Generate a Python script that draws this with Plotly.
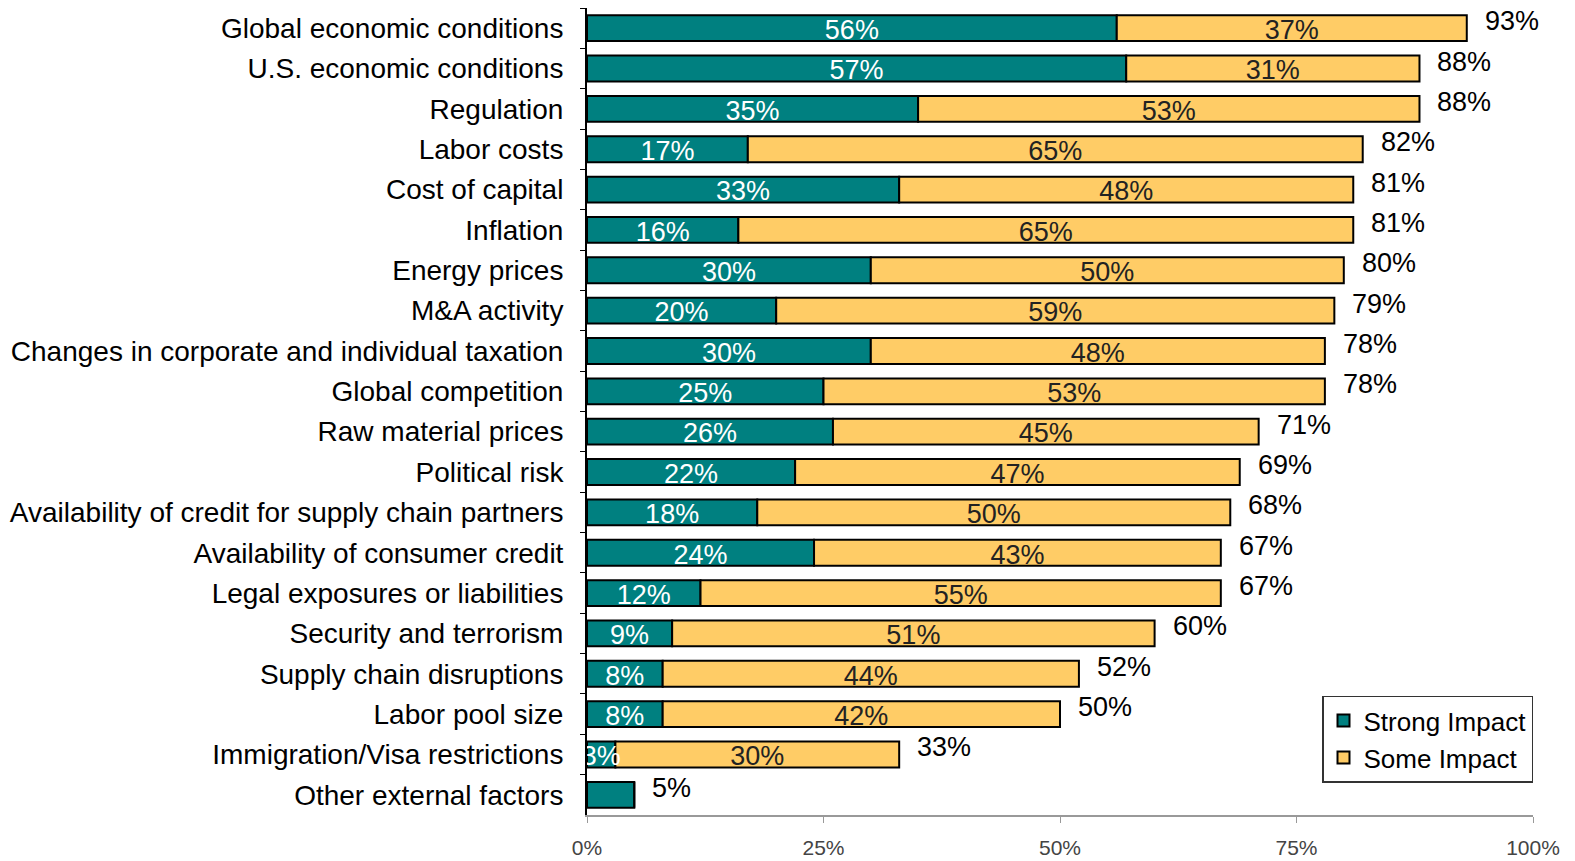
import plotly.graph_objects as go

factors = [
    "Global economic conditions", "U.S. economic conditions", "Regulation",
    "Labor costs", "Cost of capital", "Inflation", "Energy prices",
    "M&A activity", "Changes in corporate and individual taxation",
    "Global competition", "Raw material prices", "Political risk",
    "Availability of credit for supply chain partners",
    "Availability of consumer credit", "Legal exposures or liabilities",
    "Security and terrorism", "Supply chain disruptions", "Labor pool size",
    "Immigration/Visa restrictions", "Other external factors",
]
strong_impact = [56, 57, 35, 17, 33, 16, 30, 20, 30, 25, 26, 22, 18, 24, 12, 9, 8, 8, 3, 5]
some_impact = [37, 31, 53, 65, 48, 65, 50, 59, 48, 53, 45, 47, 50, 43, 55, 51, 44, 42, 30, 0]
x_ticks = [0, 25, 50, 75, 100]

TEAL = "#008080"
GOLD = "#FFCC66"
FONT = "Liberation Sans, Arial, sans-serif"

totals = [a + b for a, b in zip(strong_impact, some_impact)]
rows = list(range(len(factors)))
n = len(factors)

fig = go.Figure()
fig.add_trace(go.Bar(
    name="Strong Impact", y=factors, x=strong_impact, orientation="h",
    marker=dict(color=TEAL, line=dict(color="black", width=2)),
    hoverinfo="skip",
))
fig.add_trace(go.Bar(
    name="Some Impact", y=factors, x=some_impact, orientation="h",
    base=strong_impact,
    marker=dict(color=GOLD, line=dict(color="black", width=2)),
    hoverinfo="skip",
))

# segment labels centred inside each segment, on a row-index axis that sits
# slightly lower than the bar axis so the text rests low in the bar
strong_lbl = [f"{v}%" if v > 0 and w > 0 else "" for v, w in zip(strong_impact, some_impact)]
fig.add_trace(go.Scatter(
    y=rows, x=[v / 2 for v in strong_impact], mode="text", text=strong_lbl, yaxis="y2",
    textposition="middle center", textfont=dict(color="white", size=27, family=FONT),
    showlegend=False, hoverinfo="skip", cliponaxis=True,
))
some_lbl = [f"{v}%" if v > 0 else "" for v in some_impact]
fig.add_trace(go.Scatter(
    y=rows, x=[s + v / 2 for s, v in zip(strong_impact, some_impact)], mode="text",
    text=some_lbl, textposition="middle center", yaxis="y2",
    textfont=dict(color="#222222", size=27, family=FONT),
    showlegend=False, hoverinfo="skip", cliponaxis=True,
))

# totals to the right of each bar
for f, t in zip(factors, totals):
    fig.add_annotation(
        x=t, y=f, text=f"{t}%", showarrow=False, xanchor="left", xshift=16, yshift=7,
        font=dict(color="black", size=27, family=FONT),
    )

fig.update_layout(
    barmode="overlay",
    bargap=0.36,
    width=1575, height=861,
    margin=dict(l=587, r=42, t=8, b=46),
    plot_bgcolor="white", paper_bgcolor="white",
    font=dict(family=FONT),
    legend=dict(
        x=1.0, xanchor="right", y=0.04, yanchor="bottom",
        bordercolor="#333333", borderwidth=1.5, bgcolor="white",
        font=dict(size=26, color="black", family=FONT),
        itemwidth=30, tracegroupgap=0,
    ),
    yaxis=dict(
        type="category", categoryorder="array", categoryarray=factors,
        range=[n - 0.5, -0.5], autorange=False, automargin=False,
        showline=True, linecolor="black", linewidth=2,
        ticks="outside", ticklen=5, tickcolor="black", tickson="boundaries",
        ticklabelstandoff=16, tickfont=dict(size=28, color="black", family=FONT),
        showgrid=False, zeroline=False,
    ),
    yaxis2=dict(
        overlaying="y", range=[n - 0.5 - 0.1, -0.5 - 0.1], autorange=False,
        visible=False, showgrid=False, zeroline=False,
    ),
    xaxis=dict(
        range=[0, 100], tickvals=x_ticks, ticktext=[f"{v}%" for v in x_ticks],
        automargin=False,
        showline=True, linecolor="#999999", linewidth=1.5,
        ticks="outside", ticklen=6, tickcolor="#999999",
        tickfont=dict(size=21, color="#444444", family=FONT),
        showgrid=False, zeroline=False, ticklabelstandoff=7,
    ),
)

fig.write_html("out.html")
